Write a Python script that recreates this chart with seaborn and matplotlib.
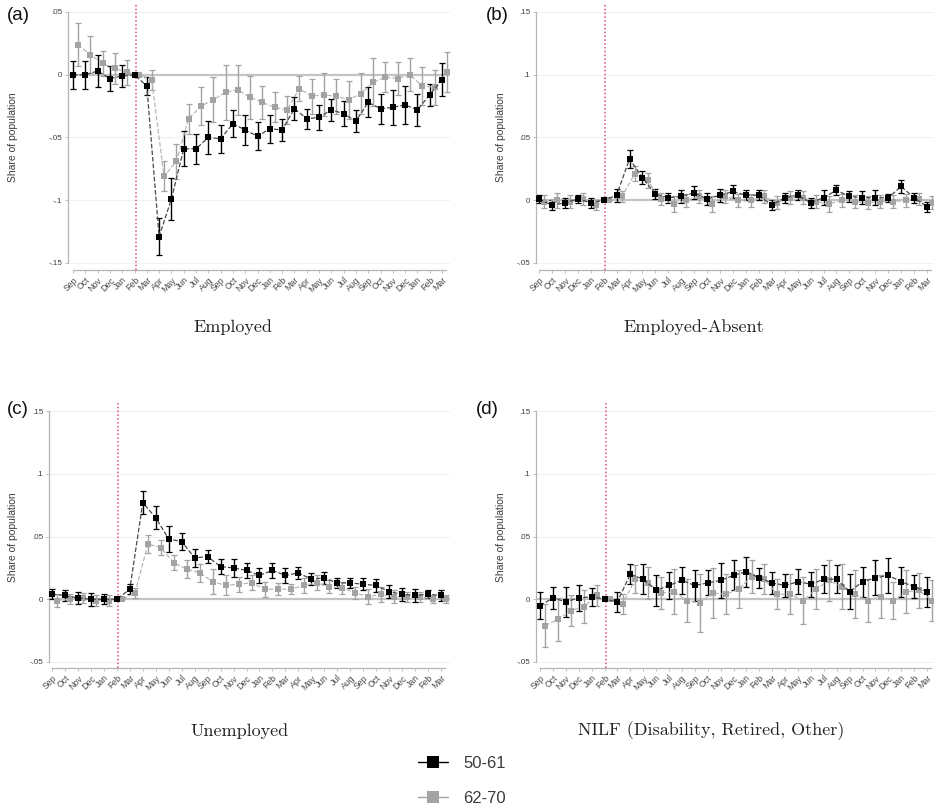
import numpy as np
import pandas as pd
import matplotlib
matplotlib.use("Agg")
import matplotlib.pyplot as plt
import seaborn as sns
from matplotlib.lines import Line2D

# ---------------- data ----------------
months = ['Sep', 'Oct', 'Nov', 'Dec', 'Jan', 'Feb', 'Mar', 'Apr', 'May', 'Jun', 'Jul', 'Aug',
          'Sep', 'Oct', 'Nov', 'Dec', 'Jan', 'Feb', 'Mar', 'Apr', 'May', 'Jun', 'Jul', 'Aug',
          'Sep', 'Oct', 'Nov', 'Dec', 'Jan', 'Feb', 'Mar']
groups = ['50-61', '62-70']
panel_titles = ['Employed', 'Employed-Absent', 'Unemployed', 'NILF (Disability, Retired, Other)']
panel_letters = ['(a)', '(b)', '(c)', '(d)']

emp_young = [0, 0, 0.003, -0.003, -0.001, 0, -0.009, -0.129, -0.099, -0.059, -0.059, -0.050, -0.051,
             -0.039, -0.044, -0.049, -0.043, -0.044, -0.027, -0.035, -0.034, -0.028, -0.031, -0.037,
             -0.022, -0.027, -0.026, -0.024, -0.028, -0.016, -0.004]
emp_young_err = [0.011, 0.011, 0.013, 0.010, 0.009, 0, 0.007, 0.015, 0.017, 0.014, 0.012, 0.013, 0.011,
                 0.011, 0.012, 0.011, 0.011, 0.009, 0.009, 0.008, 0.010, 0.009, 0.010, 0.009, 0.012,
                 0.012, 0.014, 0.015, 0.013, 0.009, 0.013]
emp_old = [0.024, 0.016, 0.009, 0.005, 0.002, 0, -0.004, -0.081, -0.069, -0.035, -0.025, -0.020, -0.014,
           -0.012, -0.018, -0.022, -0.026, -0.028, -0.011, -0.017, -0.016, -0.017, -0.020, -0.015,
           -0.006, -0.002, -0.003, -0.000, -0.009, -0.010, 0.002]
emp_old_err = [0.017, 0.015, 0.010, 0.012, 0.010, 0, 0.008, 0.012, 0.014, 0.012, 0.015, 0.018, 0.022,
               0.020, 0.017, 0.013, 0.012, 0.011, 0.010, 0.014, 0.017, 0.014, 0.015, 0.016, 0.019,
               0.012, 0.013, 0.013, 0.015, 0.014, 0.016]

abs_young = [0.001, -0.004, -0.002, 0.001, -0.002, 0, 0.004, 0.033, 0.018, 0.005, 0.002, 0.003, 0.006,
             0.001, 0.004, 0.007, 0.004, 0.004, -0.004, 0.002, 0.004, -0.002, 0.002, 0.008, 0.003,
             0.002, 0.002, 0.002, 0.011, 0.002, -0.005]
abs_young_err = [0.003, 0.004, 0.004, 0.003, 0.004, 0, 0.005, 0.007, 0.005, 0.004, 0.004, 0.005, 0.005,
                 0.005, 0.005, 0.005, 0.004, 0.004, 0.004, 0.004, 0.004, 0.004, 0.006, 0.004, 0.004,
                 0.005, 0.006, 0.003, 0.005, 0.004, 0.004]
abs_old = [-0.001, 0.000, -0.001, 0.001, -0.004, 0, 0.003, 0.021, 0.016, 0.001, -0.003, 0.000, 0.003,
           -0.003, 0.003, 0.000, 0.000, 0.003, -0.002, 0.002, 0.002, -0.001, -0.003, 0.000, -0.001,
           -0.002, -0.001, -0.001, 0.000, 0.001, -0.002]
abs_old_err = [0.005, 0.006, 0.005, 0.005, 0.004, 0, 0.004, 0.006, 0.006, 0.005, 0.006, 0.005, 0.005,
               0.006, 0.005, 0.005, 0.005, 0.005, 0.005, 0.005, 0.005, 0.005, 0.006, 0.005, 0.005,
               0.005, 0.005, 0.005, 0.005, 0.005, 0.005]

unemp_young = [0.004, 0.003, 0.001, 0.000, 0.000, 0, 0.008, 0.077, 0.065, 0.048, 0.046, 0.033, 0.034,
               0.026, 0.025, 0.023, 0.019, 0.023, 0.019, 0.021, 0.016, 0.017, 0.013, 0.013, 0.012,
               0.011, 0.006, 0.004, 0.003, 0.004, 0.003]
unemp_young_err = [0.004, 0.004, 0.005, 0.005, 0.004, 0, 0.004, 0.009, 0.009, 0.010, 0.007, 0.007, 0.005,
                   0.006, 0.007, 0.006, 0.006, 0.006, 0.006, 0.005, 0.005, 0.005, 0.004, 0.004, 0.005,
                   0.005, 0.005, 0.005, 0.005, 0.003, 0.004]
unemp_old = [-0.001, 0.000, 0.001, -0.001, -0.001, 0, 0.005, 0.044, 0.041, 0.029, 0.024, 0.021, 0.014,
             0.011, 0.012, 0.013, 0.008, 0.008, 0.008, 0.011, 0.013, 0.010, 0.009, 0.005, 0.002,
             0.004, 0.002, 0.002, 0.002, 0.000, 0.000]
unemp_old_err = [0.005, 0.004, 0.004, 0.004, 0.004, 0, 0.004, 0.007, 0.006, 0.006, 0.007, 0.007, 0.010,
                 0.008, 0.006, 0.006, 0.006, 0.005, 0.004, 0.006, 0.006, 0.005, 0.005, 0.005, 0.006,
                 0.006, 0.005, 0.004, 0.004, 0.003, 0.003]

nilf_young = [-0.005, 0.001, -0.002, 0.001, 0.002, 0, -0.002, 0.020, 0.016, 0.007, 0.011, 0.015, 0.011,
              0.013, 0.015, 0.019, 0.022, 0.017, 0.013, 0.011, 0.014, 0.012, 0.016, 0.016, 0.006,
              0.014, 0.017, 0.019, 0.014, 0.010, 0.006]
nilf_young_err = [0.011, 0.009, 0.012, 0.010, 0.007, 0, 0.008, 0.008, 0.012, 0.012, 0.011, 0.011, 0.012,
                  0.010, 0.014, 0.012, 0.012, 0.008, 0.009, 0.009, 0.010, 0.010, 0.011, 0.011, 0.014,
                  0.012, 0.014, 0.014, 0.012, 0.009, 0.012]
nilf_old = [-0.021, -0.016, -0.009, -0.006, 0.003, 0, -0.004, 0.016, 0.013, 0.005, 0.006, -0.001, -0.003,
            0.005, 0.004, 0.008, 0.018, 0.016, 0.004, 0.004, -0.001, 0.008, 0.015, 0.010, 0.004,
            -0.001, 0.002, -0.001, 0.006, 0.007, -0.001]
nilf_old_err = [0.017, 0.017, 0.012, 0.013, 0.008, 0, 0.008, 0.011, 0.013, 0.013, 0.018, 0.017, 0.023,
                0.020, 0.016, 0.015, 0.013, 0.012, 0.012, 0.016, 0.019, 0.016, 0.016, 0.018, 0.019,
                0.017, 0.017, 0.015, 0.017, 0.014, 0.016]

panels = [
    (emp_young, emp_young_err, emp_old, emp_old_err),
    (abs_young, abs_young_err, abs_old, abs_old_err),
    (unemp_young, unemp_young_err, unemp_old, unemp_old_err),
    (nilf_young, nilf_young_err, nilf_old, nilf_old_err),
]

# ---------------- style ----------------
sns.set_theme(style="white")
plt.rcParams['font.family'] = ['Liberation Sans', 'DejaVu Sans']

W, H = 934, 810
fig = plt.figure(figsize=(W / 100, H / 100), dpi=100)

BLACK = '#000000'
GRAY = '#a3a3a3'
SPINE = '#b5b5b5'
TXT = '#3c3c3c'
OFFSET = 0.4

# pixel layout: box (left, top, right, bottom), x px of first/last month, y px of top/bottom tick
layouts = [
    dict(box=(68, 3, 450, 270), x0=73, x30=442, yt=12, yb=263, yticks=[0.05, 0, -0.05, -0.1, -0.15],
         ylabels=['.05', '0', '-.05', '-.1', '-.15']),
    dict(box=(536, 3, 934, 270), x0=539, x30=927, yt=12, yb=263, yticks=[0.15, 0.1, 0.05, 0, -0.05],
         ylabels=['.15', '.1', '.05', '0', '-.05']),
    dict(box=(49, 403, 450, 668), x0=52, x30=441, yt=411, yb=662, yticks=[0.15, 0.1, 0.05, 0, -0.05],
         ylabels=['.15', '.1', '.05', '0', '-.05']),
    dict(box=(536, 403, 934, 668), x0=540, x30=927, yt=411, yb=662, yticks=[0.15, 0.1, 0.05, 0, -0.05],
         ylabels=['.15', '.1', '.05', '0', '-.05']),
]
title_pos = [(233, 327), (694, 327), (240, 731), (711, 731)]
letter_pos = [(18, 16), (497, 16), (18, 409), (487, 410)]
ylabel_pos = [(13, 137), (501, 137), (13, 537), (501, 537)]

x_idx = np.arange(len(months))

for k, (lay, data) in enumerate(zip(layouts, panels)):
    l, t, r, b = lay['box']
    ax = fig.add_axes([l / W, 1 - b / H, (r - l) / W, (b - t) / H])
    xs = (lay['x30'] - lay['x0']) / 30.0
    yhi, ylo = lay['yticks'][0], lay['yticks'][-1]
    ys = (lay['yb'] - lay['yt']) / (yhi - ylo)
    ax.set_xlim((l - lay['x0']) / xs, (r - lay['x0']) / xs)
    ax.set_ylim(ylo - (b - lay['yb']) / ys, yhi + (lay['yt'] - t) / ys)

    yb_, eb_, yg_, eg_ = data
    df = pd.DataFrame({
        'x': np.concatenate([x_idx, x_idx + OFFSET]),
        'est': np.concatenate([yb_, yg_]),
        'err': np.concatenate([eb_, eg_]),
        'group': [groups[0]] * len(months) + [groups[1]] * len(months),
    })

    # grid, zero line, event line
    for yv in lay['yticks']:
        if yv != 0:
            ax.axhline(yv, color='#f1f1f1', lw=0.8, zorder=0)
    ax.axhline(0, color='#c4c4c4', lw=1.6, zorder=1)
    ax.axvline(5.1, color='#e0487e', ls=(0, (1, 1.5)), lw=1.1, zorder=1)

    for grp, col, lcol in [(groups[1], GRAY, '#b8b8b8'), (groups[0], BLACK, '#4a4a4a')]:
        sub = df[df['group'] == grp]
        ax.errorbar(sub['x'], sub['est'], yerr=sub['err'], fmt='none', ecolor=col,
                    elinewidth=1.0, capsize=2.3, capthick=0.9, zorder=3)
        sns.lineplot(data=sub, x='x', y='est', ax=ax, color=lcol, linestyle='--', lw=0.9,
                     marker='s', markersize=5, markerfacecolor=col, markeredgecolor=col,
                     markeredgewidth=0, estimator=None, sort=False, legend=False, zorder=4)

    ax.set_xlabel('')
    ax.set_ylabel('')
    ax.set_yticks(lay['yticks'])
    ax.set_yticklabels(lay['ylabels'], fontsize=5.8, color=TXT)
    ax.set_xticks(x_idx)
    ax.set_xticklabels(months, rotation=45, ha='right', rotation_mode='anchor', fontsize=6.3, color='#4a4a4a')
    ax.tick_params(axis='both', which='major', length=2.5, width=0.6, color=SPINE, pad=1.5,
                   left=True, bottom=True)
    for s in ['top', 'right']:
        ax.spines[s].set_visible(False)
    for s in ['left', 'bottom']:
        ax.spines[s].set_color(SPINE)
        ax.spines[s].set_linewidth(0.9)
    ax.spines['left'].set_bounds(ylo, yhi)
    ax.spines['bottom'].set_bounds(0.0, 30.3)
    ax.set_facecolor('white')

    tx, ty = title_pos[k]
    fig.text(tx / W, 1 - ty / H, panel_titles[k], ha='center', va='center', fontsize=13,
             family=['cmr10', 'DejaVu Serif'], color='#222222')
    lx, ly = letter_pos[k]
    fig.text(lx / W, 1 - ly / H, panel_letters[k], ha='center', va='center', fontsize=13.5, color='#111111')
    yx, yy = ylabel_pos[k]
    fig.text(yx / W, 1 - yy / H, 'Share of population', ha='center', va='center', rotation=90,
             fontsize=7.5, color=TXT)

handles = [
    Line2D([0], [0], color=BLACK, lw=1.0, marker='s', markersize=8, markerfacecolor=BLACK, markeredgewidth=0),
    Line2D([0], [0], color=GRAY, lw=1.0, marker='s', markersize=8, markerfacecolor=GRAY, markeredgewidth=0),
]
fig.legend(handles, groups, loc='center', bbox_to_anchor=(462 / W, 1 - 781 / H), frameon=False,
           fontsize=12, handlelength=1.8, handletextpad=0.9, labelspacing=1.2, labelcolor=TXT)

fig.savefig('out.png', dpi=100, facecolor='white')
